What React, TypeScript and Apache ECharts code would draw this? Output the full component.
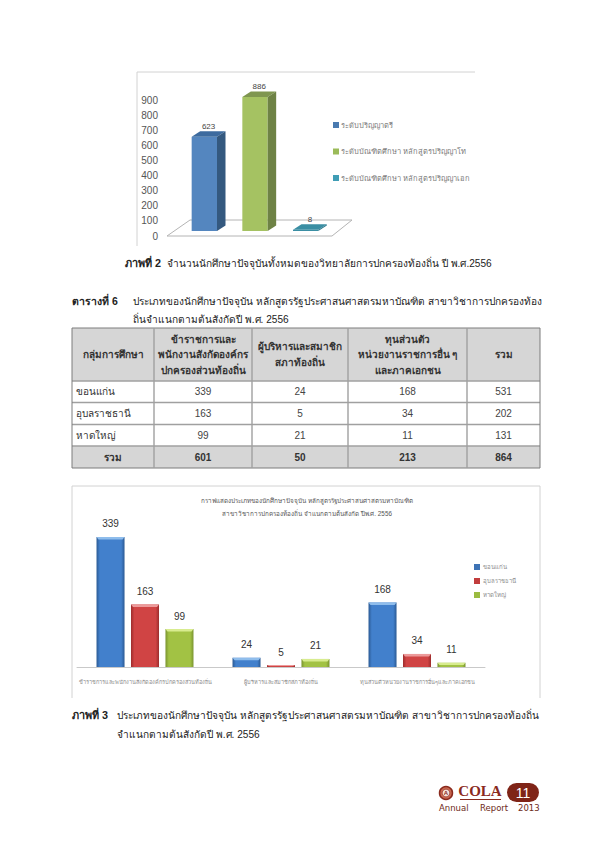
import React, { useEffect, useRef } from "react";
import * as echarts from "echarts";

// ---------- Figure 2 data ----------
const fig2Categories = ["ปริญญาตรี", "ปริญญาโท", "ปริญญาเอก"];
const fig2Names = [
  "ระดับปริญญาตรี",
  "ระดับบัณฑิตศึกษา หลักสูตรปริญญาโท",
  "ระดับบัณฑิตศึกษา หลักสูตรปริญญาเอก",
];
const fig2Values = [623, 886, 8];
const fig2Ticks = [0, 900];

// ---------- Table data ----------
const tableHeaders = [
  ["กลุ่มการศึกษา"],
  ["ข้าราชการและ", "พนักงานสังกัดองค์กร", "ปกครองส่วนท้องถิ่น"],
  ["ผู้บริหารและสมาชิก", "สภาท้องถิ่น"],
  ["ทุนส่วนตัว", "หน่วยงานราชการอื่น ๆ", "และภาคเอกชน"],
  ["รวม"],
];
const tableRows = [
  ["ขอนแก่น", "339", "24", "168", "531"],
  ["อุบลราชธานี", "163", "5", "34", "202"],
  ["หาดใหญ่", "99", "21", "11", "131"],
];
const tableTotal = ["รวม", "601", "50", "213", "864"];

// ---------- Figure 3 data ----------
const fig3Categories = [
  "ข้าราชการและพนักงานสังกัดองค์กรปกครองส่วนท้องถิ่น",
  "ผู้บริหารและสมาชิกสภาท้องถิ่น",
  "ทุนส่วนตัวหน่วยงานราชการอื่นๆและภาคเอกชน",
];
const fig3Names = ["ขอนแก่น", "อุบลราชธานี", "หาดใหญ่"];
const fig3KhonKaen = [339, 24, 168];
const fig3Ubon = [163, 5, 34];
const fig3HatYai = [99, 21, 11];

// ---------- Texts ----------
const caption2Bold = "ภาพที่ 2";
const caption2 = "จำนวนนักศึกษาปัจจุบันทั้งหมดของวิทยาลัยการปกครองท้องถิ่น ปี พ.ศ.2556";
const table6Bold = "ตารางที่ 6";
const table6Line1 = "ประเภทของนักศึกษาปัจจุบัน หลักสูตรรัฐประศาสนศาสตรมหาบัณฑิต สาขาวิชาการปกครองท้อง";
const table6Line2 = "ถิ่นจำแนกตามต้นสังกัดปี พ.ศ. 2556";
const caption3Bold = "ภาพที่ 3";
const caption3Line1 = "ประเภทของนักศึกษาปัจจุบัน หลักสูตรรัฐประศาสนศาสตรมหาบัณฑิต สาขาวิชาการปกครองท้องถิ่น";
const caption3Line2 = "จำแนกตามต้นสังกัดปี พ.ศ. 2556";
const fig3Title1 = "กราฟแสดงประเภทของนักศึกษาปัจจุบัน หลักสูตรรัฐประศาสนศาสตรมหาบัณฑิต";
const fig3Title2 = "สาขาวิชาการปกครองท้องถิ่น จำแนกตามต้นสังกัด ปีพ.ศ. 2556";

const FONT = "Liberation Sans";

const fig2Colors = [
  { front: "#5486bf", top: "#3d6b9f", side: "#34597f", legend: "#4a7ab0" },
  { front: "#a5c262", top: "#7f9650", side: "#6e8245", legend: "#9bbb59" },
  { front: "#3a8ea3", top: "#3a8ea3", side: "#2f7a8d", legend: "#3f9db5" },
];
const fig3Colors = [
  { edge: "#2b5a94", mid: "#4280cc", cap: "#8fbdec", legend: "#3d73b5" },
  { edge: "#9c2c2c", mid: "#d04444", cap: "#ec9a9a", legend: "#c23d3d" },
  { edge: "#7a9430", mid: "#a2c244", cap: "#d8ec8f", legend: "#9bbb40" },
];

function txt(text: string, x: number, y: number, o: any = {}) {
  return {
    type: "text",
    x,
    y,
    silent: true,
    style: {
      text,
      fontFamily: o.fontFamily || FONT,
      fontSize: o.fontSize || 10.1,
      fontWeight: o.bold ? "bold" : "normal",
      fill: o.fill || "#222",
      align: o.align || "left",
      verticalAlign: "middle",
    },
  };
}
function ln(x1: number, y1: number, x2: number, y2: number, stroke: string, lineWidth = 1) {
  return { type: "line", silent: true, shape: { x1, y1, x2, y2 }, style: { stroke, lineWidth } };
}

const colX = [72, 154, 252, 348, 467, 540];
const rowY = [328, 381, 402.5, 424.5, 446, 468];

function tableGraphics() {
  const out: any[] = [];
  out.push({ type: "rect", silent: true, shape: { x: colX[0], y: rowY[0], width: colX[5] - colX[0], height: rowY[1] - rowY[0] }, style: { fill: "#d6d6d6" } });
  out.push({ type: "rect", silent: true, shape: { x: colX[0], y: rowY[4], width: colX[5] - colX[0], height: rowY[5] - rowY[4] }, style: { fill: "#d6d6d6" } });
  rowY.forEach((y, i) => {
    const outer = i === 0 || i === 5;
    out.push(ln(colX[0], y, colX[5], y, outer ? "#7d7d7d" : "#a0a0a0", outer ? 1 : 1.6));
  });
  colX.forEach((x, i) => {
    const outer = i === 0 || i === 5;
    out.push(ln(x, rowY[0], x, rowY[5], outer ? "#7d7d7d" : "#a0a0a0", outer ? 1 : 1.4));
  });
  const cx = (i: number) => (colX[i] + colX[i + 1]) / 2;
  tableHeaders.forEach((lines, c) => {
    const step = 15.5;
    const start = (rowY[0] + rowY[1]) / 2 - ((lines.length - 1) * step) / 2;
    lines.forEach((l, k) => out.push(txt(l, cx(c), start + k * step, { align: "center", bold: true, fontSize: 10, fill: "#333" })));
  });
  tableRows.forEach((row, r) => {
    const y = (rowY[r + 1] + rowY[r + 2]) / 2;
    row.forEach((v, c) =>
      out.push(c === 0 ? txt(v, colX[0] + 4, y, { fontSize: 10, fill: "#333" }) : txt(v, cx(c), y, { align: "center", fontSize: 10, fill: "#444" })),
    );
  });
  const ty = (rowY[4] + rowY[5]) / 2;
  tableTotal.forEach((v, c) => out.push(txt(v, cx(c), ty, { align: "center", bold: true, fontSize: 10, fill: "#333" })));
  return out;
}

function logoGraphics() {
  const red = "#8a2a1e";
  return [
    { type: "circle", silent: true, shape: { cx: 446, cy: 793, r: 6.5 }, style: { fill: "#c8674f", stroke: red, lineWidth: 1.5 } },
    { type: "circle", silent: true, shape: { cx: 446, cy: 793, r: 3.8 }, style: { fill: "#f4e3d8", stroke: red, lineWidth: 0.6 } },
    txt("A", 446, 793, { fontSize: 6, bold: true, fill: red, align: "center" }),
    txt("COLA", 480, 791, { fontFamily: "Liberation Serif", fontSize: 15, bold: true, fill: red, align: "center" }),
    ln(460, 799.5, 501, 799.5, red, 1),
    { type: "rect", silent: true, shape: { x: 507, y: 783, width: 32, height: 19, r: 9.5 }, style: { fill: "#7f2417" } },
    txt("11", 523, 793, { fontSize: 14, fill: "#fff", align: "center" }),
    txt("Annual", 439, 807.5, { fontFamily: "DejaVu Sans", fontSize: 8.5, fill: "#6e2a20" }),
    txt("Report", 480, 807.5, { fontFamily: "DejaVu Sans", fontSize: 8.5, fill: "#6e2a20" }),
    txt("2013", 518, 807.5, { fontFamily: "DejaVu Sans", fontSize: 8.5, fill: "#6e2a20" }),
  ];
}

function render3dBar(seriesIdx: number) {
  return (params: any, api: any) => {
    const idx = api.value(0);
    const val = api.value(1);
    const [cx, y0] = api.coord([idx, 0]);
    const [, yv] = api.coord([idx, val]);
    const band = api.size([1, 0])[0];
    const w = band * 0.5;
    const lift = 5;
    const dx = 8.5;
    const dy = 5.5;
    const xl = cx - w / 2;
    const xr = cx + w / 2;
    const bot = y0 - lift;
    const top = yv - lift;
    const c = fig2Colors[seriesIdx];
    return {
      type: "group",
      children: [
        { type: "polygon", shape: { points: [[xl, bot], [xr, bot], [xr, top], [xl, top]] }, style: { fill: c.front } },
        { type: "polygon", shape: { points: [[xl, top], [xr, top], [xr + dx, top - dy], [xl + dx, top - dy]] }, style: { fill: c.top } },
        { type: "polygon", shape: { points: [[xr, top], [xr + dx, top - dy], [xr + dx, bot - dy], [xr, bot]] }, style: { fill: c.side } },
        {
          type: "text",
          style: {
            text: String(val),
            x: cx + dx / 2,
            y: top - dy - 5,
            align: "center",
            verticalAlign: "middle",
            fontSize: 8,
            fontFamily: FONT,
            fill: "#444",
          },
        },
      ],
    };
  };
}

function renderGlossBar(seriesIdx: number) {
  return (params: any, api: any) => {
    const idx = api.value(0);
    const val = api.value(1);
    const [cx0, y0] = api.coord([idx, 0]);
    const [, yv] = api.coord([idx, val]);
    const band = api.size([1, 0])[0];
    const w = band * 0.206;
    const cx = cx0 + (seriesIdx - 1) * band * 0.2535;
    const c = fig3Colors[seriesIdx];
    const capH = Math.min(2.5, (y0 - yv) / 2);
    return {
      type: "group",
      children: [
        {
          type: "rect",
          shape: { x: cx - w / 2, y: yv, width: w, height: y0 - yv },
          style: {
            fill: new echarts.graphic.LinearGradient(0, 0, 1, 0, [
              { offset: 0, color: c.edge },
              { offset: 0.12, color: c.mid },
              { offset: 0.88, color: c.mid },
              { offset: 1, color: c.edge },
            ]),
          },
        },
        {
          type: "polygon",
          shape: { points: [[cx - w / 2, yv], [cx + w / 2, yv], [cx + w / 2 - 2, yv + capH], [cx - w / 2 + 2, yv + capH]] },
          style: { fill: c.cap },
        },
        {
          type: "text",
          style: {
            text: String(val),
            x: cx,
            y: yv - 13,
            align: "center",
            verticalAlign: "middle",
            fontSize: 10,
            fontFamily: "Liberation Sans",
            fill: "#333",
          },
        },
      ],
    };
  };
}

export default function App() {
  const ref = useRef<HTMLDivElement>(null);
  useEffect(() => {
    const chart = echarts.init(ref.current!, null, { renderer: "svg" });
    const fig3Data = [fig3KhonKaen, fig3Ubon, fig3HatYai];
    chart.setOption({
      animation: false,
      backgroundColor: "#ffffff",
      grid: [
        { left: 179, top: 100, width: 152, height: 136 },
        { left: 77, top: 513.6, width: 408, height: 153.4 },
      ],
      xAxis: [
        { type: "category", gridIndex: 0, data: fig2Categories, show: false },
        {
          type: "category",
          gridIndex: 1,
          data: fig3Categories,
          axisTick: { show: false },
          axisLine: { lineStyle: { color: "#c9c9c9" } },
          axisLabel: { interval: 0, fontSize: 5.6, color: "#8c8c8c", margin: 12, fontFamily: FONT },
        },
      ],
      yAxis: [
        {
          type: "value",
          gridIndex: 0,
          min: fig2Ticks[0],
          max: fig2Ticks[1],
          interval: 100,
          axisLine: { show: false },
          axisTick: { show: false },
          splitLine: { show: false },
          axisLabel: { fontSize: 10, color: "#555", margin: 21, fontFamily: FONT },
        },
        { type: "value", gridIndex: 1, min: 0, max: 400, show: false, splitLine: { show: false } },
      ],
      legend: [
        {
          data: fig2Names,
          orient: "vertical",
          left: 328,
          top: 116,
          itemWidth: 6,
          itemHeight: 6,
          itemGap: 18.5,
          icon: "rect",
          textStyle: { fontSize: 7.5, color: "#7a7a7a", fontFamily: FONT, padding: [0, 0, 0, -3] },
        },
        {
          data: fig3Names,
          orient: "vertical",
          left: 469,
          top: 559,
          itemWidth: 6,
          itemHeight: 6,
          itemGap: 8,
          icon: "rect",
          textStyle: { fontSize: 6, color: "#8c8c8c", fontFamily: FONT, padding: [0, 0, 0, -2] },
        },
      ],
      series: [
        ...fig2Names.map((name, i) => ({
          type: "custom",
          name,
          xAxisIndex: 0,
          yAxisIndex: 0,
          itemStyle: { color: fig2Colors[i].legend },
          encode: { x: 0, y: 1 },
          data: [[i, fig2Values[i]]],
          renderItem: render3dBar(i),
          z: 5,
        })),
        ...fig3Names.map((name, i) => ({
          type: "custom",
          name,
          xAxisIndex: 1,
          yAxisIndex: 1,
          itemStyle: { color: fig3Colors[i].legend },
          encode: { x: 0, y: 1 },
          data: fig3Data[i].map((v, k) => [k, v]),
          renderItem: renderGlossBar(i),
          z: 5,
        })),
      ],
      graphic: [
        ln(137, 72, 475, 72, "#d2d2d2"),
        ln(137, 72, 137, 246, "#d2d2d2"),
        {
          type: "polygon",
          silent: true,
          shape: { points: [[167, 236], [190, 220], [352, 220], [332, 236]] },
          style: { fill: "#ffffff", stroke: "#b4b4b4", lineWidth: 1 },
        },
        txt(caption2Bold, 125, 263, { bold: true, fontSize: 10.8 }),
        txt(caption2, 167, 263),
        txt(table6Bold, 72, 301, { bold: true, fontSize: 10.5 }),
        txt(table6Line1, 133, 301),
        txt(table6Line2, 133, 319),
        ...tableGraphics(),
        ln(72, 486, 540, 486, "#d2d2d2"),
        ln(72, 486, 72, 698, "#d2d2d2"),
        ln(540, 486, 540, 698, "#d2d2d2"),
        txt(fig3Title1, 307, 500, { fontSize: 6.3, align: "center", fill: "#555" }),
        txt(fig3Title2, 307, 513, { fontSize: 6.3, align: "center", fill: "#555" }),
        txt(caption3Bold, 72, 715, { bold: true, fontSize: 10.8 }),
        txt(caption3Line1, 117, 715),
        txt(caption3Line2, 117, 734),
        ...logoGraphics(),
      ],
    });
    return () => chart.dispose();
  }, []);
  return <div ref={ref} style={{ position: "absolute", left: 0, top: 0, width: 612, height: 846 }} />;
}
